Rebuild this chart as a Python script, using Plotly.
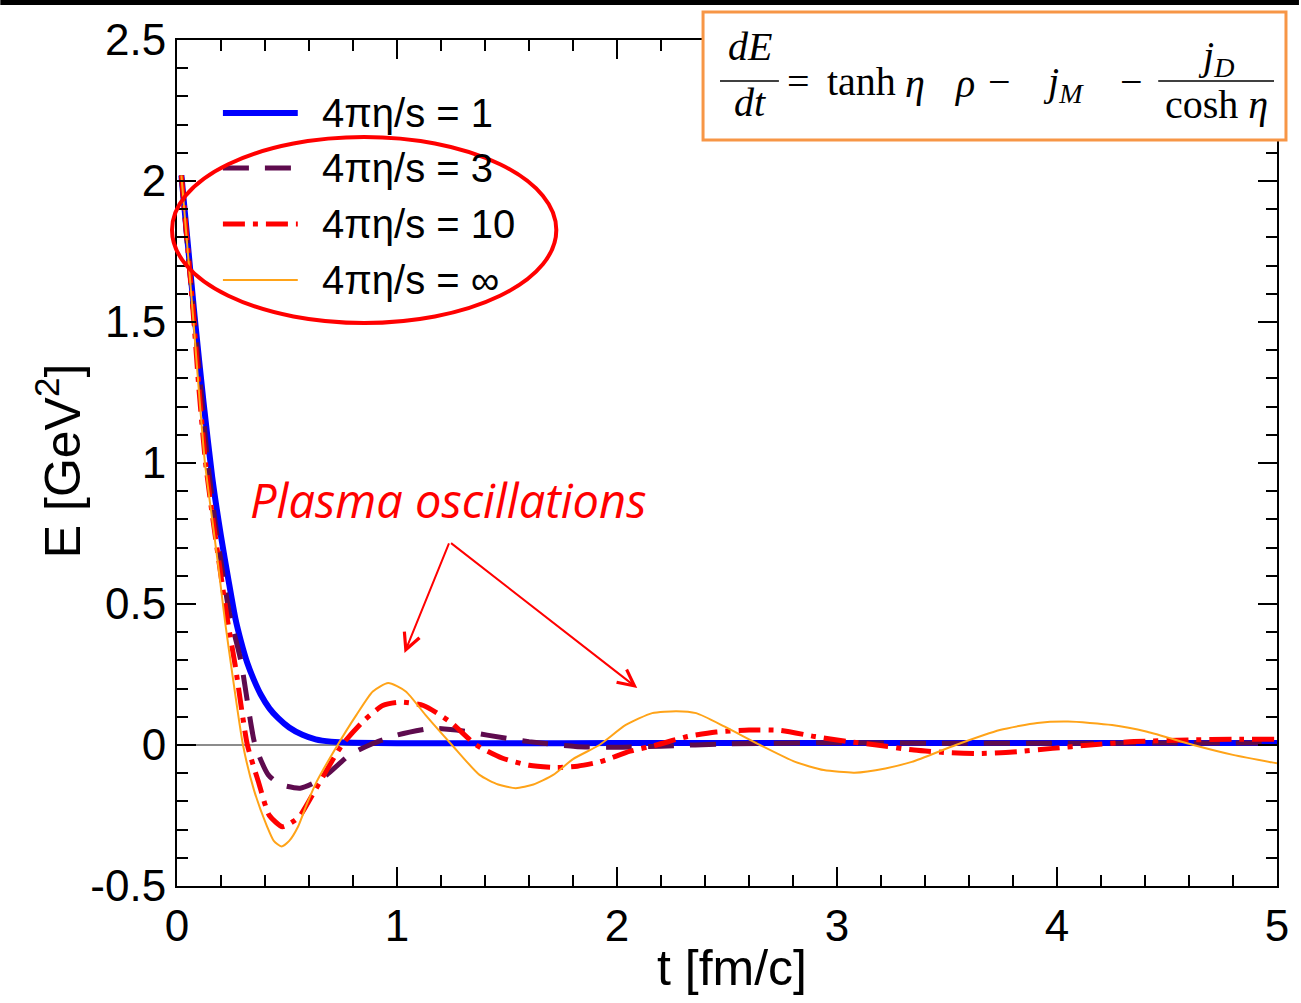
import plotly.graph_objects as go

# ---- data -----------------------------------------------------------------
series_names = ["4πη/s = 1", "4πη/s = 3", "4πη/s = 10", "4πη/s = ∞"]

t_visc1 = [0.02, 0.05, 0.08, 0.12, 0.16, 0.20, 0.235, 0.265, 0.29, 0.32, 0.35,
           0.38, 0.42, 0.46, 0.51, 0.57, 0.63, 0.70, 0.80, 1.0, 1.5, 2.0,
           3.0, 4.0, 5.0]
E_visc1 = [2.02, 1.77, 1.52, 1.22, 0.95, 0.74, 0.58, 0.45, 0.37, 0.29, 0.23,
           0.18, 0.13, 0.095, 0.062, 0.036, 0.02, 0.012, 0.008, 0.006, 0.006,
           0.007, 0.007, 0.007, 0.007]

t_visc3 = [0.02, 0.05, 0.08, 0.11, 0.14, 0.175, 0.21, 0.24, 0.29, 0.355, 0.415,
           0.47, 0.56, 0.62, 0.68, 0.785, 0.875, 1.0, 1.16, 1.30, 1.41, 1.60,
           1.81, 2.0, 2.2, 2.5, 3.0, 3.5, 4.0, 4.5, 5.0]
E_visc3 = [2.02, 1.75, 1.50, 1.25, 1.00, 0.78, 0.60, 0.46, 0.30, 0.0, -0.106,
           -0.14, -0.153, -0.135, -0.106, -0.035, 0.0, 0.035, 0.059, 0.05,
           0.035, 0.012, -0.005, -0.008, -0.004, 0.004, 0.008, 0.006, 0.006,
           0.007, 0.007]

t_visc10 = [0.02, 0.05, 0.077, 0.10, 0.13, 0.165, 0.20, 0.23, 0.265, 0.32, 0.37,
            0.42, 0.48, 0.53, 0.56, 0.65, 0.75, 0.845, 0.935, 1.01, 1.12, 1.24,
            1.36, 1.48, 1.60, 1.72, 1.82, 1.92, 2.06, 2.18, 2.32, 2.45, 2.60,
            2.74, 2.90, 3.04, 3.18, 3.35, 3.50, 3.64, 3.80, 3.98, 4.15, 4.35,
            4.60, 4.80, 5.0]
E_visc10 = [2.02, 1.75, 1.50, 1.26, 1.00, 0.79, 0.60, 0.44, 0.28, 0.0, -0.13,
            -0.25, -0.29, -0.27, -0.25, -0.13, 0.0, 0.083, 0.14, 0.152, 0.14,
            0.083, 0.0, -0.047, -0.072, -0.08, -0.075, -0.06, -0.022, 0.0,
            0.03, 0.046, 0.053, 0.052, 0.03, 0.013, 0.0, -0.018, -0.027, -0.03,
            -0.025, -0.012, 0.0, 0.012, 0.018, 0.02, 0.02]

t_ideal = [0.02, 0.05, 0.075, 0.10, 0.127, 0.16, 0.19, 0.218, 0.25, 0.30, 0.35,
           0.41, 0.44, 0.475, 0.51, 0.55, 0.59, 0.635, 0.73, 0.815, 0.89, 0.96,
           1.04, 1.13, 1.25, 1.375, 1.46, 1.54, 1.62, 1.71, 1.80, 1.92, 2.04,
           2.16, 2.27, 2.36, 2.49, 2.65, 2.81, 2.94, 3.08, 3.22, 3.34, 3.54,
           3.74, 3.91, 4.05, 4.25, 4.41, 4.62, 4.80, 5.0]
E_ideal = [2.02, 1.74, 1.50, 1.25, 1.00, 0.80, 0.62, 0.44, 0.26, 0.0, -0.16,
           -0.29, -0.34, -0.36, -0.34, -0.29, -0.21, -0.13, 0.0, 0.106, 0.19,
           0.22, 0.19, 0.106, 0.0, -0.106, -0.14, -0.153, -0.14, -0.106, -0.05,
           0.0, 0.071, 0.113, 0.12, 0.113, 0.065, 0.0, -0.06, -0.089, -0.098,
           -0.083, -0.06, 0.0, 0.053, 0.078, 0.083, 0.071, 0.047, 0.0, -0.035,
           -0.065]

x_range = [0, 5]
y_range = [-0.5, 2.5]
x_tick_vals = [0, 1, 2, 3, 4, 5]
x_tick_text = ["0", "1", "2", "3", "4", "5"]
y_tick_vals = [-0.5, 0, 0.5, 1, 1.5, 2, 2.5]
y_tick_text = ["-0.5", "0", "0.5", "1", "1.5", "2", "2.5"]

# ---- styles ---------------------------------------------------------------
colors = ["#0000FF", "#5E0B4E", "#FF0000", "#FFA318"]
widths = [6, 5, 5, 2]
dashes = ["solid", "26px,16px", "22px,8px,5px,8px", "solid"]

W, H = 1301, 1003
ML, MR, MT, MB = 177, 22, 40, 117


def px(x):
    """pixel column -> paper x"""
    return (x - ML) / (W - ML - MR)


def py(y):
    """pixel row -> paper y"""
    return (H - MB - y) / (H - MT - MB)


fig = go.Figure()
for tt, ee, name, c, w, d in zip([t_visc1, t_visc3, t_visc10, t_ideal],
                                 [E_visc1, E_visc3, E_visc10, E_ideal],
                                 series_names, colors, widths, dashes):
    fig.add_trace(go.Scatter(x=tt, y=ee, mode="lines", name=name,
                             line=dict(color=c, width=w, dash=d, shape="spline",
                                       smoothing=0.6),
                             showlegend=False))

shapes = []
annotations = []

# legend drawn as line samples + labels
legend_rows = [113, 168, 224, 280]
for row, name, c, w, d in zip(legend_rows, series_names, colors, widths, dashes):
    shapes.append(dict(type="line", xref="paper", yref="paper",
                       x0=px(223), x1=px(298), y0=py(row), y1=py(row),
                       line=dict(color=c, width=w, dash=d)))
    annotations.append(dict(text=name, xref="paper", yref="paper",
                            x=px(320), y=py(row), xanchor="left",
                            yanchor="middle", showarrow=False,
                            font=dict(family="Liberation Sans, Arial", size=40,
                                      color="black")))

# red ellipse around the legend
shapes.append(dict(type="circle", xref="paper", yref="paper",
                   x0=px(172), x1=px(557), y0=py(323), y1=py(137),
                   line=dict(color="#FF0000", width=4)))

# equation box
shapes.append(dict(type="rect", xref="paper", yref="paper",
                   x0=px(704), x1=px(1288), y0=py(140), y1=py(12),
                   fillcolor="white", line=dict(color="#F79646", width=3),
                   layer="above"))
# fraction bars
shapes.append(dict(type="line", xref="paper", yref="paper",
                   x0=px(721), x1=px(780), y0=py(81), y1=py(81),
                   line=dict(color="black", width=1.5)))
shapes.append(dict(type="line", xref="paper", yref="paper",
                   x0=px(1160), x1=px(1276), y0=py(81), y1=py(81),
                   line=dict(color="black", width=1.5)))

# black band along the top edge
shapes.append(dict(type="rect", xref="paper", yref="paper",
                   x0=px(0), x1=px(W), y0=py(5), y1=py(-2),
                   fillcolor="black", line=dict(width=0), layer="above"))

serif = dict(family="Liberation Serif, Times New Roman", size=40, color="black")
for txt, x, y, anchor in [
    ("<i>dE</i>", 751, 47, "center"),
    ("<i>dt</i>", 751, 102, "center"),
    ("=", 800, 82, "center"),
    ("tanh", 826, 82, "left"),
    ("<i>η</i>", 904, 84, "left"),
    ("<i>ρ</i>", 953, 84, "left"),
    ("−", 1001, 82, "center"),
    ("<i>j</i><sub><i>M</i></sub>", 1043, 84, "left"),
    ("−", 1133, 82, "center"),
    ("<i>j</i><sub><i>D</i></sub>", 1218, 58, "center"),
    ("cosh <i>η</i>", 1218, 104, "center"),
]:
    annotations.append(dict(text=txt, xref="paper", yref="paper", x=px(x),
                            y=py(y), xanchor=anchor, yanchor="middle",
                            showarrow=False, font=serif))

# "Plasma oscillations" label and its two arrows
annotations.append(dict(text="<i>Plasma oscillations</i>", xref="paper",
                        yref="paper", x=px(448), y=py(500), xanchor="center",
                        yanchor="middle", showarrow=False,
                        font=dict(family="Open Sans", size=47,
                                  color="#FF0000")))
apex = (1.239, 0.72)
for tip in [(1.034, 0.326), (2.092, 0.202)]:
    annotations.append(dict(x=tip[0], y=tip[1], ax=apex[0], ay=apex[1],
                            xref="x", yref="y", axref="x", ayref="y", text="",
                            showarrow=True, arrowhead=5, arrowsize=1.6,
                            arrowwidth=2, arrowcolor="#FF0000"))

# axis titles
annotations.append(dict(text="t [fm/c]", xref="paper", yref="paper",
                        x=px(733), y=py(968), xanchor="center", yanchor="middle",
                        showarrow=False,
                        font=dict(family="Liberation Sans, Arial", size=50,
                                  color="black")))
annotations.append(dict(text="E [GeV<sup>2</sup>]", xref="paper", yref="paper",
                        x=px(59), y=py(461), xanchor="center", yanchor="middle",
                        textangle=-90, showarrow=False,
                        font=dict(family="Liberation Sans, Arial", size=50,
                                  color="black")))

axis_common = dict(showline=True, linecolor="black", linewidth=2, mirror="ticks",
                   ticks="inside", tickcolor="black", tickwidth=1.5,
                   ticklen=19, showgrid=False,
                   tickfont=dict(family="Liberation Sans, Arial", size=44,
                                 color="black"))

fig.update_layout(
    width=W, height=H,
    margin=dict(l=ML, r=MR, t=MT, b=MB),
    paper_bgcolor="white", plot_bgcolor="white",
    showlegend=False,
    shapes=shapes, annotations=annotations,
    xaxis=dict(range=x_range, tickmode="array", tickvals=x_tick_vals,
               ticktext=x_tick_text, zeroline=False,
               minor=dict(dtick=0.2, tick0=0, ticks="inside", ticklen=11,
                          tickcolor="black", tickwidth=1.5),
               **axis_common),
    yaxis=dict(range=y_range, tickmode="array", tickvals=y_tick_vals,
               ticktext=y_tick_text, zeroline=True,
               zerolinecolor="#8C8C8C", zerolinewidth=1.5,
               minor=dict(dtick=0.1, tick0=0, ticks="inside", ticklen=11,
                          tickcolor="black", tickwidth=1.5),
               **axis_common),
)

fig.write_html("out.html")
